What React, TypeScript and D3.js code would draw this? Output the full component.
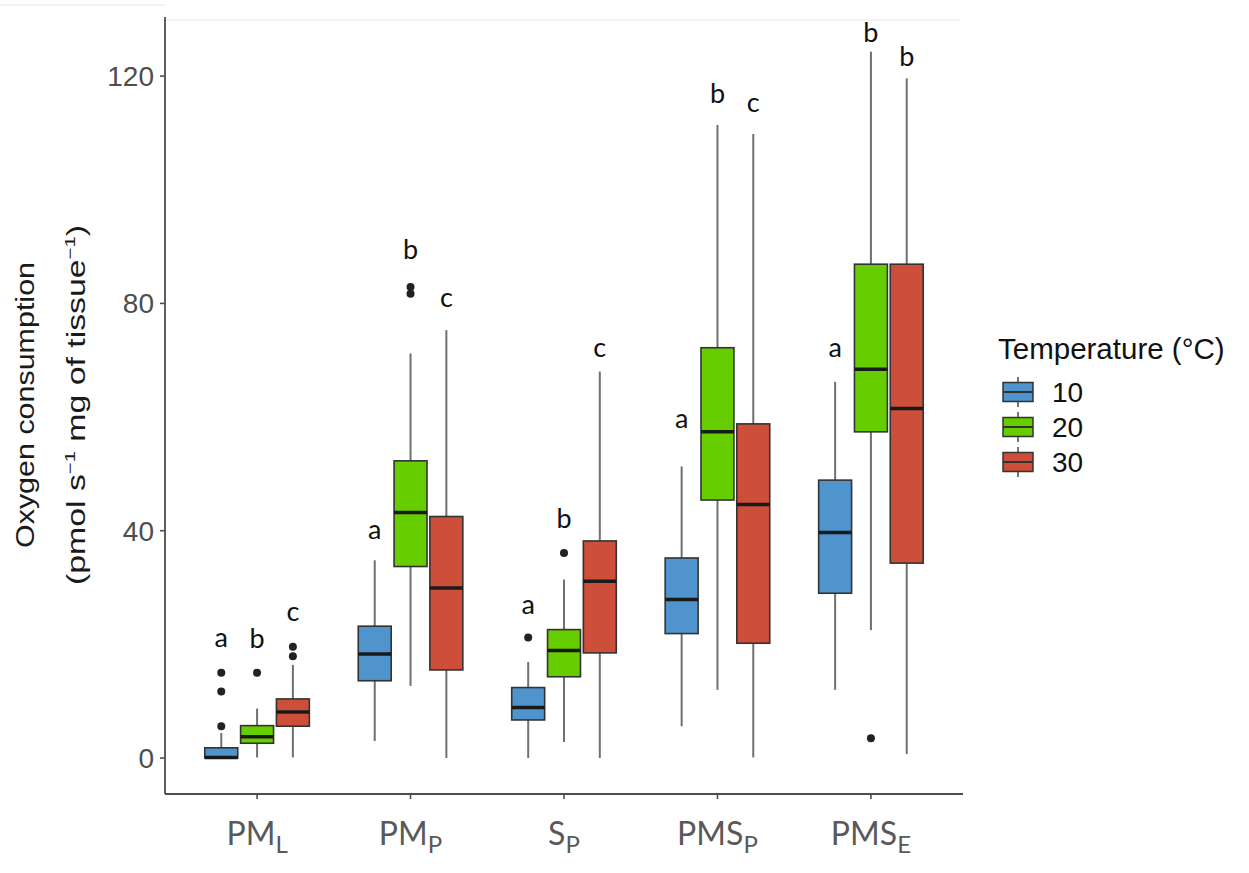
import * as d3 from "d3"

// categories (x axis): main text + subscript
const categories = ["PM_L", "PM_P", "S_P", "PMS_P", "PMS_E"]
const catMain = ["PM", "PM", "S", "PMS", "PMS"]
const catSub = ["L", "P", "P", "P", "E"]

const temps = ["10", "20", "30"]
const fills = ["#4f94cd", "#66cd00", "#cd4f39"]

// [lower whisker, Q1, median, Q3, upper whisker] for each category
const stats10 = [
	[0, 0, 0.1, 1.8, 4.4],
	[3.0, 13.6, 18.3, 23.2, 34.8],
	[0, 6.7, 8.9, 12.4, 16.9],
	[5.6, 21.9, 27.9, 35.2, 51.3],
	[12.0, 29.0, 39.7, 48.9, 66.2],
]
const stats20 = [
	[0.1, 2.6, 3.75, 5.7, 8.7],
	[12.7, 33.7, 43.2, 52.3, 71.2],
	[2.8, 14.3, 18.9, 22.6, 31.4],
	[12.0, 45.4, 57.4, 72.2, 111.4],
	[22.5, 57.4, 68.4, 86.9, 124.3],
]
const stats30 = [
	[0.1, 5.6, 8.1, 10.4, 16.4],
	[0, 15.5, 29.9, 42.5, 75.3],
	[0, 18.5, 31.1, 38.2, 68.0],
	[0.1, 20.2, 44.6, 58.8, 109.8],
	[0.7, 34.3, 61.5, 86.9, 119.6],
]

const outliers10 = [[5.6, 11.7, 15.0], [], [21.2], [], []]
const outliers20 = [[15.0], [81.7, 82.9], [36.1], [], [3.5]]
const outliers30 = [[17.9, 19.6], [], [], [], []]

// significance letters and their baseline (in data units)
const letters10 = ["a", "a", "a", "a", "a"]
const letters20 = ["b", "b", "b", "b", "b"]
const letters30 = ["c", "c", "c", "c", "b"]
const letterY10 = [19.5, 38.6, 25.3, 58.0, 70.5]
const letterY20 = [19.4, 87.8, 40.4, 115.3, 126.0]
const letterY30 = [24.1, 79.3, 70.6, 113.7, 121.7]

const yTicks = [0, 40, 80, 120]

const series = [
	{ stats: stats10, outliers: outliers10, letters: letters10, letterY: letterY10 },
	{ stats: stats20, outliers: outliers20, letters: letters20, letterY: letterY20 },
	{ stats: stats30, outliers: outliers30, letters: letters30, letterY: letterY30 },
]

export default function App() {
	const width = 1249
	const height = 873
	const panel = { left: 165, right: 963, top: 17, bottom: 794 }

	const x = d3
		.scaleBand()
		.domain(categories)
		.range([panel.left, panel.right])
		.paddingInner(0)
		.paddingOuter(0.1)
	const step = x.step()
	const dodge = d3
		.scaleBand()
		.domain(temps)
		.range([-0.35 * step, 0.35 * step])
	const boxW = dodge.bandwidth() * 0.92

	const y = d3
		.scaleLinear()
		.domain([-6.33, 130.4])
		.range([panel.bottom, panel.top])

	const cx = (ci: number, ti: number) =>
		(x(categories[ci]) as number) +
		x.bandwidth() / 2 +
		(dodge(temps[ti]) as number) +
		dodge.bandwidth() / 2

	const sans = "'Liberation Sans', Arial, sans-serif"
	const calib = "Lato, 'Open Sans', sans-serif"

	return (
		<svg
			width={width}
			height={height}
			style={{ position: "absolute", left: 0, top: 0, background: "#fff" }}
		>
			{/* faint page edges from the screenshot */}
			<line x1={0} x2={panel.left} y1={5} y2={5} stroke="#ececec" strokeWidth={1.5} />
			<line x1={panel.left} x2={960} y1={20} y2={20} stroke="#efefef" strokeWidth={1.5} />

			{/* boxes */}
			{series.map((s, ti) =>
				s.stats.map((d, ci) => {
					const [lo, q1, med, q3, hi] = d
					const c = cx(ci, ti)
					return (
						<g key={`b${ti}-${ci}`}>
							<line x1={c} x2={c} y1={y(q3)} y2={y(hi)} stroke="#707070" strokeWidth={2} />
							<line x1={c} x2={c} y1={y(q1)} y2={y(lo)} stroke="#707070" strokeWidth={2} />
							<rect
								x={c - boxW / 2}
								y={y(q3)}
								width={boxW}
								height={Math.max(y(q1) - y(q3), 1)}
								fill={fills[ti]}
								stroke="#333"
								strokeWidth={1.6}
							/>
							<line
								x1={c - boxW / 2}
								x2={c + boxW / 2}
								y1={y(med)}
								y2={y(med)}
								stroke="#1a1a1a"
								strokeWidth={3.5}
							/>
						</g>
					)
				})
			)}

			{/* outliers */}
			{series.map((s, ti) =>
				s.outliers.map((arr, ci) =>
					arr.map((v, k) => (
						<circle key={`o${ti}-${ci}-${k}`} cx={cx(ci, ti)} cy={y(v)} r={4} fill="#222" />
					))
				)
			)}

			{/* letters */}
			{series.map((s, ti) =>
				s.letters.map((l, ci) => (
					<text
						key={`l${ti}-${ci}`}
						x={cx(ci, ti)}
						y={y(s.letterY[ci])}
						textAnchor="middle"
						fontFamily={calib}
						fontSize={27}
						fill="#111"
					>
						{l}
					</text>
				))
			)}

			{/* axes */}
			<line x1={panel.left} x2={panel.left} y1={panel.top} y2={panel.bottom} stroke="#4d4d4d" strokeWidth={1.8} />
			<line x1={panel.left} x2={panel.right} y1={panel.bottom} y2={panel.bottom} stroke="#4d4d4d" strokeWidth={1.8} />
			{yTicks.map((t) => (
				<g key={`yt${t}`}>
					<line x1={panel.left - 5} x2={panel.left} y1={y(t)} y2={y(t)} stroke="#4d4d4d" strokeWidth={1.6} />
					<text
						x={panel.left - 11}
						y={y(t)}
						dy="0.36em"
						textAnchor="end"
						fontFamily={sans}
						fontSize={28}
						fill="#4d4d4d"
					>
						{t}
					</text>
				</g>
			))}
			{categories.map((c, i) => {
				const xc = (x(c) as number) + x.bandwidth() / 2
				return (
					<g key={`xt${c}`}>
						<line x1={xc} x2={xc} y1={panel.bottom} y2={panel.bottom + 5} stroke="#4d4d4d" strokeWidth={1.6} />
						<text x={xc} y={845} textAnchor="middle" fontFamily={calib} fontSize={32} fill="#595959">
							{catMain[i]}
							<tspan fontSize={24} dy={8}>
								{catSub[i]}
							</tspan>
						</text>
					</g>
				)
			})}

			{/* y axis title */}
			<text
				transform="translate(34,405) rotate(-90)"
				textAnchor="middle"
				fontFamily={sans}
				fontSize={25}
				fill="#1a1a1a"
				textLength={286}
				lengthAdjust="spacingAndGlyphs"
			>
				Oxygen consumption
			</text>
			<text
				transform="translate(85,405) rotate(-90)"
				textAnchor="middle"
				fontFamily={sans}
				fontSize={25}
				fill="#1a1a1a"
				textLength={360}
				lengthAdjust="spacingAndGlyphs"
			>
				(pmol s
				<tspan fontSize={15} dy={-10}>
					−1
				</tspan>
				<tspan dy={10}> mg of tissue</tspan>
				<tspan fontSize={15} dy={-10}>
					−1
				</tspan>
				<tspan dy={10}>)</tspan>
			</text>

			{/* legend */}
			<text x={998} y={359} fontFamily={sans} fontSize={29.5} fill="#111">
				Temperature (°C)
			</text>
			{temps.map((t, i) => {
				const cy = 392 + 35 * i
				return (
					<g key={`lg${t}`}>
						<line x1={1018} x2={1018} y1={cy - 15} y2={cy + 15} stroke="#555" strokeWidth={1.6} />
						<rect x={1003} y={cy - 9.5} width={30} height={19} fill={fills[i]} stroke="#333" strokeWidth={1.5} />
						<line x1={1003} x2={1033} y1={cy} y2={cy} stroke="#333" strokeWidth={2} />
						<text x={1052} y={cy} dy="0.36em" fontFamily={sans} fontSize={28} fill="#111">
							{t}
						</text>
					</g>
				)
			})}
		</svg>
	)
}
